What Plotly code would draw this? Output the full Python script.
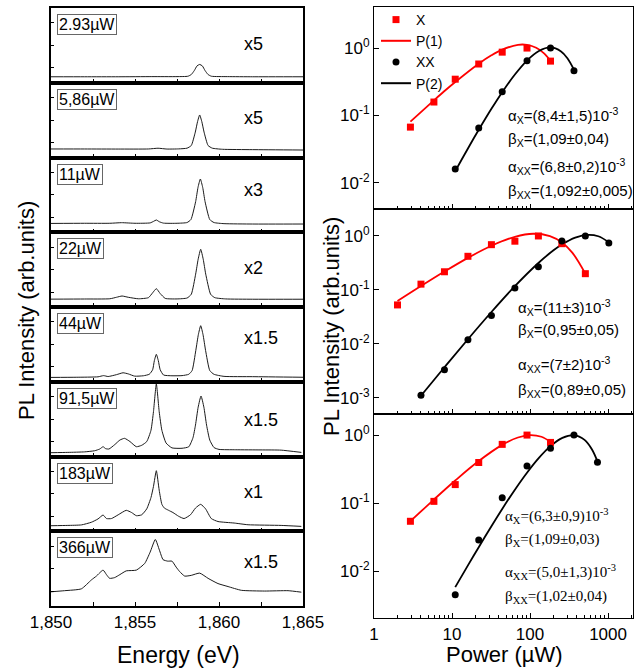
import plotly.graph_objects as go

W, H = 641, 669


def px(x):
    return x / W


def py(y):
    return 1 - y / H


# ---------------- Left: PL spectra (intensity as fraction of panel height) ----------------
power_labels = ["2.93µW", "5,86µW", "11µW", "22µW", "44µW", "91,5µW", "183µW", "366µW"]
scale_labels = ["x5", "x5", "x3", "x2", "x1.5", "x1.5", "x1", "x1.5"]
scale_label_y = [0.52, 0.53, 0.565, 0.52, 0.58, 0.49, 0.53, 0.59]

E1 = [1.850, 1.852, 1.854, 1.856, 1.8575, 1.85815, 1.85835, 1.85853, 1.85869, 1.85885,
      1.85901, 1.85917, 1.85935, 1.85955, 1.8605, 1.862, 1.865]
I1 = [0.08, 0.08, 0.08, 0.082, 0.082, 0.087, 0.11, 0.163, 0.225, 0.245,
      0.225, 0.163, 0.11, 0.087, 0.082, 0.08, 0.08]

E2 = [1.850, 1.852, 1.854, 1.8558, 1.85637, 1.8569, 1.8576, 1.8581, 1.85835, 1.85859,
      1.85872, 1.85885, 1.85898, 1.85911, 1.85935, 1.8596, 1.8602, 1.862, 1.865]
I2 = [0.114, 0.114, 0.113, 0.114, 0.124, 0.113, 0.115, 0.125, 0.16, 0.34,
      0.477, 0.569, 0.477, 0.34, 0.16, 0.125, 0.11, 0.105, 0.10]

E3 = [1.850, 1.852, 1.8535, 1.8542, 1.855, 1.8559, 1.8561, 1.85627, 1.85645, 1.8567,
      1.8575, 1.8581, 1.85833, 1.85861, 1.85875, 1.85889, 1.85903, 1.85917, 1.85945,
      1.8597, 1.8603, 1.862, 1.865]
I3 = [0.118, 0.12, 0.12, 0.128, 0.12, 0.125, 0.145, 0.164, 0.14, 0.122,
      0.12, 0.13, 0.17, 0.41, 0.6, 0.712, 0.6, 0.41, 0.17,
      0.13, 0.115, 0.11, 0.11]

E4 = [1.850, 1.852, 1.8535, 1.8539, 1.85423, 1.8546, 1.8552, 1.8558, 1.85605, 1.85627,
      1.8565, 1.8568, 1.8575, 1.8581, 1.85835, 1.85861, 1.85876, 1.85891, 1.85906,
      1.85921, 1.8595, 1.85975, 1.8604, 1.862, 1.865]
I4 = [0.105, 0.107, 0.11, 0.13, 0.147, 0.13, 0.11, 0.125, 0.19, 0.245,
      0.18, 0.115, 0.108, 0.12, 0.17, 0.44, 0.64, 0.772, 0.64,
      0.44, 0.17, 0.125, 0.108, 0.104, 0.104]

E5 = [1.850, 1.8515, 1.8528, 1.85313, 1.8534, 1.8539, 1.85429, 1.8546, 1.85498, 1.8555,
      1.85585, 1.85605, 1.85615, 1.85627, 1.85639, 1.8565, 1.8567, 1.8572, 1.8578,
      1.8582, 1.8584, 1.85862, 1.85877, 1.85891, 1.85905, 1.8592, 1.85945, 1.8597,
      1.8603, 1.862, 1.865]
I5 = [0.058, 0.06, 0.066, 0.082, 0.07, 0.095, 0.12, 0.105, 0.075, 0.08,
      0.1, 0.16, 0.28, 0.367, 0.28, 0.16, 0.09, 0.08, 0.082,
      0.1, 0.15, 0.42, 0.63, 0.75, 0.63, 0.42, 0.15, 0.1,
      0.072, 0.068, 0.06]

E6 = [1.850, 1.851, 1.852, 1.8526, 1.8529, 1.8531, 1.85325, 1.85345, 1.8538, 1.8541,
      1.85438, 1.8547, 1.85508, 1.8554, 1.8557, 1.85595, 1.8561, 1.85627, 1.85644,
      1.8566, 1.85685, 1.8572, 1.8578, 1.8582, 1.85845, 1.8586, 1.85876, 1.85893,
      1.8591, 1.85926, 1.85945, 1.8597, 1.860, 1.861, 1.8625, 1.8637, 1.8649]
I6 = [0.051, 0.055, 0.062, 0.077, 0.1, 0.131, 0.105, 0.1, 0.16, 0.22,
      0.243, 0.2, 0.131, 0.15, 0.2, 0.35, 0.6, 0.97, 0.6,
      0.35, 0.18, 0.115, 0.11, 0.13, 0.25, 0.42, 0.66, 0.809,
      0.66, 0.42, 0.22, 0.12, 0.095, 0.09, 0.088, 0.085, 0.055]

E7 = [1.850, 1.851, 1.85181, 1.8524, 1.8528, 1.8531, 1.8533, 1.8536, 1.854, 1.85448,
      1.8548, 1.85508, 1.8554, 1.8557, 1.85595, 1.8561, 1.85627, 1.85644, 1.8566,
      1.85675, 1.857, 1.85726, 1.8576, 1.85792, 1.8583, 1.8586, 1.85891, 1.8592,
      1.85954, 1.85994, 1.8609, 1.86173, 1.8637, 1.8649]
I7 = [0.074, 0.078, 0.085, 0.12, 0.165, 0.217, 0.17, 0.17, 0.22, 0.28,
      0.25, 0.208, 0.22, 0.3, 0.45, 0.6, 0.81, 0.55, 0.36,
      0.31, 0.28, 0.25, 0.2, 0.17, 0.22, 0.31, 0.36, 0.3,
      0.17, 0.13, 0.11, 0.087, 0.078, 0.065]

E8 = [1.850, 1.85081, 1.85181, 1.8524, 1.8527, 1.8531, 1.8533, 1.85349, 1.85379, 1.8541,
      1.85448, 1.85508, 1.85558, 1.8559, 1.85621, 1.85645, 1.85667, 1.85695, 1.8572,
      1.85745, 1.85766, 1.85796, 1.85835, 1.85885, 1.85935, 1.85994, 1.86054, 1.86133,
      1.86272, 1.86411, 1.8649]
I8 = [0.19, 0.205, 0.23, 0.348, 0.4, 0.48, 0.42, 0.37, 0.38, 0.42,
      0.47, 0.48, 0.57, 0.72, 0.89, 0.75, 0.62, 0.6, 0.6,
      0.52, 0.46, 0.40, 0.41, 0.44, 0.37, 0.30, 0.26, 0.21,
      0.20, 0.205, 0.185]

spectra_E = [E1, E2, E3, E4, E5, E6, E7, E8]
spectra_I = [I1, I2, I3, I4, I5, I6, I7, I8]

energy_tickvals = [1.850, 1.8525, 1.855, 1.8575, 1.860, 1.8625, 1.865]
energy_ticktext = ["1,850", "", "1,855", "", "1,860", "", "1,865"]

# ---------------- Right: power dependence ----------------
pw_top_x = [2.93, 5.86, 11, 22, 44, 91.5, 183]
X_top = [0.067, 0.158, 0.345, 0.58, 0.87, 1.0, 0.64]
pw_top_xx = [11, 22, 44, 91.5, 183, 366]
XX_top = [0.016, 0.065, 0.225, 0.65, 1.0, 0.46]
fit1_top_p = [2.93, 5.86, 8, 11, 22, 32, 44, 70, 91.5, 120, 150, 183]
fit1_top = [0.081, 0.167, 0.230, 0.314, 0.587, 0.781, 0.948, 1.118, 1.117, 1.01, 0.84, 0.647]
fit2_top_p = [11, 16, 22, 32, 44, 64, 91.5, 130, 183, 250, 300, 366]
fit2_top = [0.0149, 0.0323, 0.0611, 0.1253, 0.2214, 0.405, 0.6526, 0.904, 1.021, 0.892, 0.712, 0.477]

pw_mid_x = [2, 4, 8, 16, 32, 64, 128, 256, 512]
X_mid = [0.0527, 0.128, 0.217, 0.42, 0.69, 0.80, 1.0, 0.72, 0.20]
pw_mid_xx = [4, 8, 16, 32, 64, 128, 256, 512, 1024]
XX_mid = [0.00112, 0.00333, 0.0119, 0.0335, 0.108, 0.268, 0.81, 1.0, 0.74]
fit1_mid_p = [2, 4, 8, 16, 32, 64, 110, 180, 256, 350, 512]
fit1_mid = [0.0622, 0.1178, 0.219, 0.393, 0.658, 0.965, 1.099, 0.992, 0.756, 0.486, 0.2]
fit2_mid_p = [4, 8, 16, 32, 64, 128, 200, 256, 380, 550, 750, 1024]
fit2_mid = [0.00109, 0.00368, 0.0122, 0.039, 0.1175, 0.316, 0.542, 0.695, 0.931, 1.049, 0.988, 0.766]

pw_bot_x = [2.93, 5.86, 11, 22, 44, 91.5, 183]
X_bot = [0.054, 0.106, 0.187, 0.395, 0.73, 1.0, 0.78]
pw_bot_xx = [11, 22, 44, 91.5, 183, 366, 732]
XX_bot = [0.0045, 0.0286, 0.12, 0.35, 0.64, 1.0, 0.40]
fit1_bot_p = [2.93, 5.86, 11, 22, 44, 70, 100, 140, 183]
fit1_bot = [0.0542, 0.1127, 0.2146, 0.4146, 0.7174, 0.921, 0.9996, 0.945, 0.794]
fit2_bot_p = [11, 16, 22, 32, 44, 64, 91.5, 130, 183, 260, 366, 500, 620, 732]
fit2_bot = [0.0058, 0.01214, 0.02247, 0.0457, 0.082, 0.1576, 0.280, 0.4627, 0.689, 0.911, 0.9985, 0.85, 0.62, 0.41]

right_panels = [
    dict(px_x=pw_top_x, X=X_top, px_xx=pw_top_xx, XX=XX_top, f1p=fit1_top_p, f1=fit1_top,
         f2p=fit2_top_p, f2=fit2_top),
    dict(px_x=pw_mid_x, X=X_mid, px_xx=pw_mid_xx, XX=XX_mid, f1p=fit1_mid_p, f1=fit1_mid,
         f2p=fit2_mid_p, f2=fit2_mid),
    dict(px_x=pw_bot_x, X=X_bot, px_xx=pw_bot_xx, XX=XX_bot, f1p=fit1_bot_p, f1=fit1_bot,
         f2p=fit2_bot_p, f2=fit2_bot),
]
right_yranges = [[-2.39, 0.61], [-3.3, 0.5], [-2.69, 0.31]]
right_pix = [(7, 209), (209, 414), (414, 618)]

param_texts = [
    ["α<sub>X</sub>=(8,4±1,5)10<sup>-3</sup>", "β<sub>X</sub>=(1,09±0,04)",
     "α<sub>XX</sub>=(6,8±0,2)10<sup>-3</sup>", "β<sub>XX</sub>=(1,092±0,005)"],
    ["α<sub>X</sub>=(11±3)10<sup>-3</sup>", "β<sub>X</sub>=(0,95±0,05)",
     "α<sub>XX</sub>=(7±2)10<sup>-3</sup>", "β<sub>XX</sub>=(0,89±0,05)"],
    ["α<sub>X</sub>=(6,3±0,9)10<sup>-3</sup>", "β<sub>X</sub>=(1,09±0,03)",
     "α<sub>XX</sub>=(5,0±1,3)10<sup>-3</sup>", "β<sub>XX</sub>=(1,02±0,04)"],
]
param_x = [506, 516, 503]
param_y = [[115, 140, 166, 192], [308, 331, 364, 390], [516, 540, 572, 597]]
param_font = ["Liberation Sans, Arial, sans-serif", "Liberation Sans, Arial, sans-serif",
              "Liberation Serif, Times New Roman, serif"]

RED = "#ff0000"
SANS = "Liberation Sans, Arial, sans-serif"

fig = go.Figure()
layout = dict(
    width=W, height=H, margin=dict(l=0, r=0, t=0, b=0, autoexpand=False),
    paper_bgcolor="white", plot_bgcolor="white",
    font=dict(family=SANS, color="black", size=16),
    legend=dict(x=px(376), y=py(4), xanchor="left", yanchor="top", bgcolor="rgba(0,0,0,0)",
                font=dict(size=14), tracegroupgap=0, itemwidth=30),
)
annotations = []

top0, ph = 8.0, 74.75
for i in range(8):
    n = i + 1
    t = top0 + ph * i
    b = t + ph
    xs = "x" if n == 1 else f"x{n}"
    ys = "y" if n == 1 else f"y{n}"
    fig.add_trace(go.Scatter(x=spectra_E[i], y=spectra_I[i], mode="lines",
                             line=dict(color="#1a1a1a", width=1, shape="spline", smoothing=0.5),
                             xaxis=xs, yaxis=ys, showlegend=False, hoverinfo="skip"))
    layout["xaxis" if n == 1 else f"xaxis{n}"] = dict(
        domain=[px(51), px(303)], range=[1.850, 1.865], anchor=ys, automargin=False,
        showline=True, mirror=True, linecolor="black", linewidth=1.5,
        ticks="inside", ticklen=4, tickcolor="black",
        tickvals=energy_tickvals, ticktext=energy_ticktext,
        showticklabels=(n == 8), tickfont=dict(size=17), showgrid=False, zeroline=False)
    layout["yaxis" if n == 1 else f"yaxis{n}"] = dict(
        domain=[py(b), py(t)], range=[0, 1], anchor=xs, automargin=False,
        showline=True, mirror=True, linecolor="black", linewidth=1.5,
        ticks="inside", ticklen=3, tickcolor="black", tickvals=[0.2, 0.5, 0.8],
        showticklabels=False, showgrid=False, zeroline=False)
    annotations.append(dict(xref="paper", yref="paper", x=px(57), y=py(t + 6),
                            xanchor="left", yanchor="top", text=power_labels[i], showarrow=False,
                            font=dict(size=16), bordercolor="#666", borderwidth=1, borderpad=1,
                            bgcolor="white"))
    annotations.append(dict(xref="paper", yref="paper", x=px(242), y=py(b - scale_label_y[i] * ph),
                            xanchor="left", yanchor="middle", text=scale_labels[i], showarrow=False,
                            font=dict(size=18)))

minor_vals = [m * 10 ** k for k in range(4) for m in range(2, 10)]
for j, pnl in enumerate(right_panels):
    n = 9 + j
    xs, ys = f"x{n}", f"y{n}"
    t, b = right_pix[j]
    fig.add_trace(go.Scatter(x=pnl["f1p"], y=pnl["f1"], mode="lines", name="P(1)",
                             line=dict(color=RED, width=1.8, shape="spline"),
                             xaxis=xs, yaxis=ys, showlegend=False, hoverinfo="skip"))
    fig.add_trace(go.Scatter(x=pnl["f2p"], y=pnl["f2"], mode="lines", name="P(2)",
                             line=dict(color="black", width=1.8, shape="spline"),
                             xaxis=xs, yaxis=ys, showlegend=False, hoverinfo="skip"))
    fig.add_trace(go.Scatter(x=pnl["px_x"], y=pnl["X"], mode="markers", name="X",
                             marker=dict(symbol="square", color=RED, size=7),
                             xaxis=xs, yaxis=ys, showlegend=False, hoverinfo="skip"))
    fig.add_trace(go.Scatter(x=pnl["px_xx"], y=pnl["XX"], mode="markers", name="XX",
                             marker=dict(symbol="circle", color="black", size=7),
                             xaxis=xs, yaxis=ys, showlegend=False, hoverinfo="skip"))
    layout[f"xaxis{n}"] = dict(
        domain=[px(374), px(633)], type="log", range=[0, 3.32], anchor=ys, automargin=False,
        showline=True, mirror=True, linecolor="black", linewidth=1.2,
        ticks="inside", ticklen=5, tickcolor="black",
        tickvals=[1, 10, 100, 1000], ticktext=["1", "10", "100", "1000"],
        minor=dict(tickvals=minor_vals, ticks="inside", ticklen=3, tickcolor="black"),
        showticklabels=(j == 2), tickfont=dict(size=17), showgrid=False, zeroline=False)
    layout[f"yaxis{n}"] = dict(
        domain=[py(b), py(t)], type="log", range=right_yranges[j], anchor=xs, automargin=False,
        showline=True, mirror=True, linecolor="black", linewidth=1.2,
        ticks="inside", ticklen=5, tickcolor="black",
        tickvals=[1, 0.1, 0.01, 0.001],
        ticktext=["10<sup>0</sup>", "10<sup>-1</sup>", "10<sup>-2</sup>", "10<sup>-3</sup>"],
        tickfont=dict(size=17), showgrid=False, zeroline=False)
    for k in range(4):
        annotations.append(dict(xref="paper", yref="paper", x=px(param_x[j]), y=py(param_y[j][k]),
                                xanchor="left", yanchor="middle", text=param_texts[j][k],
                                showarrow=False, font=dict(size=15, family=param_font[j])))

# legend entries (top-right panel style)
fig.add_trace(go.Scatter(x=[None], y=[None], mode="markers", name="X",
                         marker=dict(symbol="square", color=RED, size=7), xaxis="x9", yaxis="y9"))
fig.add_trace(go.Scatter(x=[None], y=[None], mode="lines", name="P(1)",
                         line=dict(color=RED, width=2), xaxis="x9", yaxis="y9"))
fig.add_trace(go.Scatter(x=[None], y=[None], mode="markers", name="XX",
                         marker=dict(symbol="circle", color="black", size=7), xaxis="x9", yaxis="y9"))
fig.add_trace(go.Scatter(x=[None], y=[None], mode="lines", name="P(2)",
                         line=dict(color="black", width=2), xaxis="x9", yaxis="y9"))

# axis titles
annotations += [
    dict(xref="paper", yref="paper", x=px(27), y=py(311), text="PL Intensity (arb.units)",
         textangle=-90, showarrow=False, font=dict(size=22), xanchor="center", yanchor="middle"),
    dict(xref="paper", yref="paper", x=px(178), y=py(655), text="Energy (eV)",
         showarrow=False, font=dict(size=23), xanchor="center", yanchor="middle"),
    dict(xref="paper", yref="paper", x=px(331), y=py(327), text="PL Intensity (arb.units)",
         textangle=-90, showarrow=False, font=dict(size=22), xanchor="center", yanchor="middle"),
    dict(xref="paper", yref="paper", x=px(504), y=py(654), text="Power (µW)",
         showarrow=False, font=dict(size=22), xanchor="center", yanchor="middle"),
]
layout["annotations"] = annotations
fig.update_layout(**layout)
fig.write_html("out.html", config={"displayModeBar": False},
               post_script="document.body.style.margin='0';")
